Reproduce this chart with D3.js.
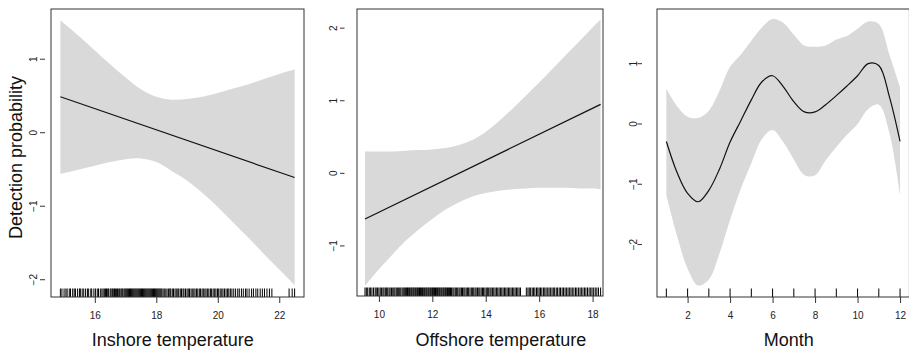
<!DOCTYPE html>
<html>
<head>
<meta charset="utf-8">
<script src="https://cdn.jsdelivr.net/npm/d3@7"></script>
<style>
  body { margin: 0; background: #fff; }
  svg { display: block; font-family: "Liberation Sans", Arial, sans-serif; }
</style>
</head>
<body>
<svg id="chart" width="909" height="351"></svg>
<script>
// ---- data ----
// inshore temperature smooth
const inshoreX     = [14.88, 15.5, 16, 16.5, 17, 17.5, 18, 18.5, 19, 19.5, 20, 20.5, 21, 21.5, 22, 22.5];
const inshoreUpper = [1.53, 1.31, 1.12, 0.93, 0.75, 0.59, 0.49, 0.45, 0.46, 0.49, 0.54, 0.60, 0.66, 0.73, 0.80, 0.86];
const inshoreLower = [-0.56, -0.50, -0.45, -0.40, -0.36, -0.35, -0.40, -0.52, -0.65, -0.82, -1.01, -1.22, -1.43, -1.65, -1.86, -2.07];
const inshoreFitX  = [14.88, 22.5];
const inshoreFit   = [0.49, -0.61];
const inshoreRug = [
  14.88, 14.93, 15.0, 15.06, 15.1, 15.17, 15.21, 15.28, 15.33, 15.37, 15.44, 15.5, 15.53, 15.59, 15.64, 15.7,
  15.76, 15.8, 15.87, 15.9, 15.97, 16.02, 16.08, 16.12, 16.18, 16.23, 16.27,
  16.31, 16.35, 16.38, 16.42, 16.45, 16.5, 16.53, 16.57, 16.6, 16.64, 16.67, 16.71, 16.74, 16.78, 16.81, 16.85,
  16.88, 16.91, 16.95, 16.98,
  17.01, 17.04, 17.07, 17.1, 17.13, 17.16, 17.19, 17.22, 17.25, 17.28, 17.31, 17.34, 17.37, 17.4, 17.43, 17.46,
  17.49, 17.52, 17.55, 17.58, 17.61, 17.64, 17.67, 17.7, 17.73, 17.76, 17.79, 17.82, 17.85, 17.88, 17.91, 17.94,
  17.97, 18.0, 18.03, 18.06, 18.09, 18.12, 18.15, 18.18,
  18.22, 18.26, 18.31, 18.35, 18.4, 18.44, 18.47, 18.52, 18.56, 18.61, 18.65, 18.7, 18.73, 18.78, 18.82, 18.87,
  18.9, 18.95, 19.0, 19.04, 19.08, 19.13, 19.17, 19.22, 19.26, 19.31, 19.35, 19.4, 19.44, 19.49, 19.53, 19.58,
  19.62, 19.67, 19.71, 19.76, 19.8, 19.85, 19.9, 19.94, 19.99, 20.03, 20.08, 20.13, 20.17, 20.22, 20.27, 20.32,
  20.36, 20.41, 20.46,
  20.52, 20.58, 20.65, 20.7, 20.77, 20.83, 20.9, 20.95, 21.02, 21.1, 21.16, 21.24, 21.3, 21.38, 21.45, 21.52,
  21.6, 21.68, 21.76,
  22.32, 22.42, 22.5];
const inshoreXTicks = [16, 18, 20, 22];
const inshoreYTicks = [-2, -1, 0, 1];

// offshore temperature smooth
const offshoreX     = [9.48, 10, 10.5, 11, 11.5, 12, 12.5, 13, 13.5, 14, 14.5, 15, 15.5, 16, 16.5, 17, 17.5, 18, 18.3];
const offshoreUpper = [0.30, 0.30, 0.30, 0.31, 0.32, 0.33, 0.35, 0.39, 0.46, 0.57, 0.72, 0.89, 1.07, 1.25, 1.44, 1.63, 1.82, 2.01, 2.12];
const offshoreLower = [-1.55, -1.32, -1.12, -0.93, -0.77, -0.63, -0.50, -0.40, -0.32, -0.27, -0.24, -0.22, -0.21, -0.20, -0.20, -0.20, -0.21, -0.21, -0.22];
const offshoreFitX  = [9.48, 18.3];
const offshoreFit   = [-0.63, 0.95];
const offshoreRug = [
  9.48, 9.53, 9.58, 9.64, 9.69, 9.74, 9.8, 9.86, 9.9, 9.95, 10.0, 10.05, 10.1, 10.15, 10.19, 10.24, 10.28, 10.33,
  10.38, 10.42, 10.47, 10.52, 10.56, 10.6, 10.65, 10.69, 10.74, 10.78, 10.82, 10.87, 10.91, 10.95, 10.99,
  11.03, 11.07, 11.1, 11.14, 11.17, 11.21, 11.24, 11.28, 11.31, 11.35, 11.38, 11.42, 11.45, 11.49, 11.52, 11.56,
  11.59, 11.63, 11.66, 11.7, 11.73, 11.77, 11.8, 11.84, 11.87, 11.91, 11.94, 11.98, 12.01, 12.05, 12.08, 12.12,
  12.15, 12.19, 12.22, 12.26, 12.29, 12.33, 12.36, 12.4, 12.43, 12.47, 12.5, 12.54, 12.57, 12.61, 12.64, 12.68,
  12.72, 12.77, 12.81, 12.86, 12.9, 12.95, 13.0, 13.04, 13.09, 13.13, 13.18, 13.22, 13.27, 13.32, 13.36, 13.41,
  13.46, 13.5, 13.55, 13.6, 13.64, 13.69, 13.74, 13.78, 13.83, 13.88, 13.92, 13.97, 14.02, 14.06, 14.11, 14.16,
  14.2, 14.25, 14.3, 14.35, 14.4, 14.45, 14.5, 14.55, 14.6, 14.65, 14.7, 14.75, 14.8, 14.85, 14.9, 14.95, 15.0,
  15.05, 15.1, 15.15, 15.2, 15.25, 15.3,
  15.52, 15.58, 15.63, 15.68, 15.74, 15.79, 15.84, 15.9, 15.95, 16.0, 16.05, 16.1, 16.16, 16.21, 16.26, 16.32,
  16.37, 16.42, 16.48, 16.53, 16.58, 16.64, 16.69, 16.75, 16.8, 16.86, 16.91, 16.97, 17.02, 17.08, 17.13, 17.19,
  17.24, 17.3, 17.36, 17.41, 17.47, 17.53, 17.58, 17.64, 17.7, 17.75, 17.81, 17.87, 17.93, 17.98, 18.04, 18.1,
  18.16, 18.22, 18.3];
const offshoreXTicks = [10, 12, 14, 16, 18];
const offshoreYTicks = [-1, 0, 1, 2];

// month smooth
const monthX     = [1, 1.5, 2, 2.5, 3, 3.5, 4, 4.5, 5, 5.5, 6, 6.5, 7, 7.5, 8, 8.5, 9, 9.5, 10, 10.5, 11, 11.5, 12];
const monthFit   = [-0.29, -0.80, -1.15, -1.29, -1.10, -0.75, -0.30, 0.05, 0.40, 0.70, 0.80, 0.62, 0.37, 0.20, 0.20, 0.32, 0.47, 0.63, 0.80, 1.00, 0.97, 0.45, -0.29];
const monthUpper = [0.59, 0.30, 0.12, 0.10, 0.22, 0.55, 0.95, 1.15, 1.38, 1.60, 1.74, 1.68, 1.48, 1.30, 1.28, 1.30, 1.40, 1.46, 1.58, 1.70, 1.66, 1.15, 0.61];
const monthLower = [-1.18, -1.85, -2.40, -2.68, -2.58, -2.15, -1.59, -1.08, -0.65, -0.25, -0.10, -0.30, -0.59, -0.85, -0.85, -0.60, -0.38, -0.18, 0.00, 0.25, 0.32, -0.15, -1.18];
const monthRug = [1, 2, 3, 4, 5, 6, 7, 8, 9, 10, 11, 12];
const monthXTicks = [2, 4, 6, 8, 10, 12];
const monthYTicks = [-2, -1, 0, 1];

// ---- layout of the three panels (pixel boxes) ----
const panels = [
  { x: inshoreX, upper: inshoreUpper, lower: inshoreLower, fitX: inshoreFitX, fit: inshoreFit, rug: inshoreRug,
    xTicks: inshoreXTicks, yTicks: inshoreYTicks, title: "Inshore temperature",
    box: [51, 304, 9, 297], xDom: [14.575, 22.805], yDom: [-2.235, 1.683],
    yTickX: [40, 45], yLabX: 33.3, titleX: 172.7 },
  { x: offshoreX, upper: offshoreUpper, lower: offshoreLower, fitX: offshoreFitX, fit: offshoreFit, rug: offshoreRug,
    xTicks: offshoreXTicks, yTicks: offshoreYTicks, title: "Offshore temperature",
    box: [357, 603, 9, 296], xDom: [9.18, 18.39], yDom: [-1.69, 2.264],
    yTickX: [340, 344.5], yLabX: 333.3, titleX: 500.8 },
  { x: monthX, upper: monthUpper, lower: monthLower, fitX: monthX, fit: monthFit, rug: monthRug,
    xTicks: monthXTicks, yTicks: monthYTicks, title: "Month",
    box: [657, 909.4, 9, 297], xDom: [0.56, 12.44], yDom: [-2.87, 1.907],
    yTickX: [637.5, 642], yLabX: 633.3, titleX: 788.7 }
];

const svg = d3.select("#chart");
svg.append("rect").attr("width", 909).attr("height", 351).attr("fill", "#fff");

panels.forEach(p => {
  const [l, r, t, b] = p.box;
  const x = d3.scaleLinear().domain(p.xDom).range([l, r]);
  const y = d3.scaleLinear().domain(p.yDom).range([b, t]);
  const g = svg.append("g");

  // confidence band
  const band = p.x.map((v, i) => ({ x: v, lo: p.lower[i], hi: p.upper[i] }));
  g.append("path")
    .datum(band)
    .attr("fill", "#d9d9d9")
    .attr("d", d3.area().x(d => x(d.x)).y0(d => y(d.lo)).y1(d => y(d.hi)).curve(d3.curveCatmullRom));

  // fitted smooth
  const fit = p.fitX.map((v, i) => ({ x: v, y: p.fit[i] }));
  g.append("path")
    .datum(fit)
    .attr("fill", "none")
    .attr("stroke", "#111")
    .attr("stroke-width", 1.2)
    .attr("d", d3.line().x(d => x(d.x)).y(d => y(d.y)).curve(d3.curveCatmullRom));

  // rug
  g.selectAll(".rug").data(p.rug).join("line")
    .attr("x1", d => x(d)).attr("x2", d => x(d))
    .attr("y1", b - 8.5).attr("y2", b)
    .attr("stroke", "#000").attr("stroke-width", 1);

  // box
  g.append("rect")
    .attr("x", l).attr("y", t).attr("width", r - l).attr("height", b - t)
    .attr("fill", "none").attr("stroke", "#333").attr("stroke-width", 1);

  // x axis
  const xa = g.append("g").attr("transform", `translate(0,${b})`)
    .call(d3.axisBottom(x).tickValues(p.xTicks).tickSize(6).tickPadding(9).tickFormat(d3.format("d")));
  xa.select(".domain").remove();
  xa.selectAll("line").attr("stroke", "#333");
  xa.selectAll("text").attr("font-size", 10).attr("fill", "#222")
    .attr("font-family", "Liberation Sans, Arial, sans-serif");

  // y axis (rotated labels, ticks set apart from the box)
  const ya = g.append("g");
  ya.selectAll("line").data(p.yTicks).join("line")
    .attr("x1", p.yTickX[0]).attr("x2", p.yTickX[1])
    .attr("y1", d => y(d)).attr("y2", d => y(d))
    .attr("stroke", "#333");
  ya.selectAll("text").data(p.yTicks).join("text")
    .attr("transform", d => `translate(${p.yLabX + 3.5},${y(d)}) rotate(-90)`)
    .attr("text-anchor", "middle")
    .attr("font-size", 10).attr("fill", "#222")
    .text(d => d < 0 ? "\u2212" + Math.abs(d) : d);

  // axis title
  g.append("text")
    .attr("x", p.titleX).attr("y", 346)
    .attr("text-anchor", "middle")
    .attr("font-size", 18).attr("fill", "#111")
    .text(p.title);
});

svg.append("text")
  .attr("transform", "translate(21.5,157.5) rotate(-90)")
  .attr("text-anchor", "middle")
  .attr("font-size", 18).attr("fill", "#111")
  .text("Detection probability");
</script>
</body>
</html>
